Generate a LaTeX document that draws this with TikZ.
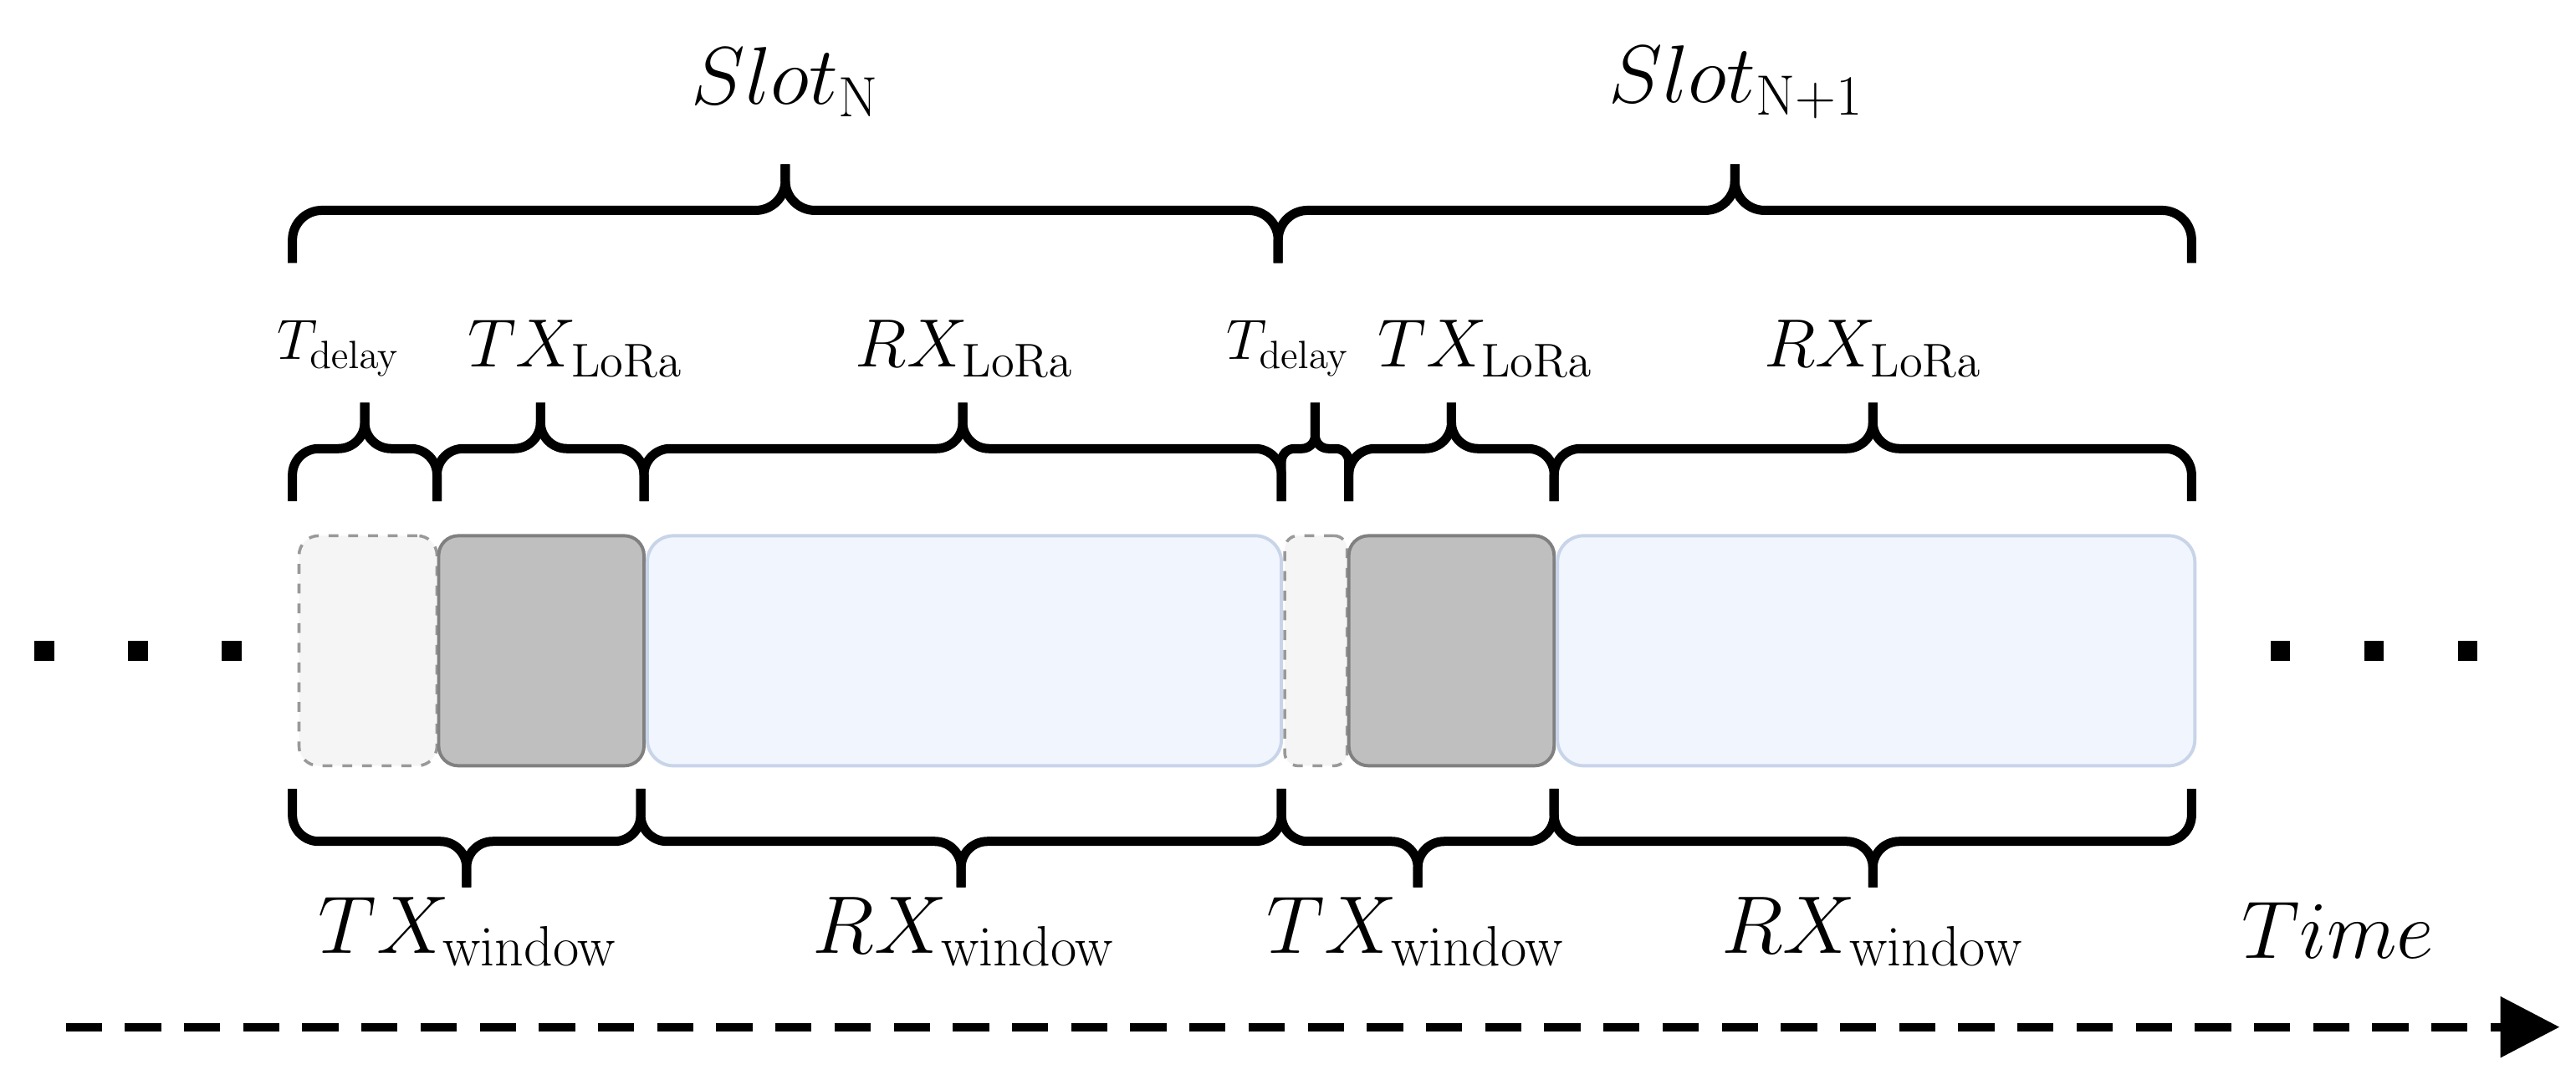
\documentclass[tikz,border=0pt]{standalone}
\usetikzlibrary{arrows.meta}
\definecolor{rxfill}{RGB}{241,245,253}
\definecolor{rxline}{RGB}{200,212,232}
\definecolor{txfill}{RGB}{191,191,191}
\definecolor{txline}{RGB}{128,128,128}
\definecolor{dlfill}{RGB}{245,245,245}
\newcommand{\mybrc}[6]{%
  \coordinate (m) at ({(#1+#2)/2},#4);
  \draw[brl,rounded corners=#6] (#1,#3) -- (#1,#4) -- (m) -- ({(#1+#2)/2},#5);
  \draw[brl,rounded corners=#6] (#2,#3) -- (#2,#4) -- (m) -- ({(#1+#2)/2},#5);}
\begin{document}
\begin{tikzpicture}[x=0.5pt,y=-0.5pt,
  brl/.style={line width=2.8pt,line cap=butt,line join=round},
  dly/.style={draw=txline!80,dashed,line width=0.9pt,fill=dlfill,rounded corners=6pt},
  tx/.style={draw=txline,line width=1pt,fill=txfill,rounded corners=6pt},
  rx/.style={draw=rxline,line width=1pt,fill=rxfill,rounded corners=8pt},
  dot/.style={fill=black,minimum size=6pt,inner sep=0pt,draw=none},
  small/.style={font=\fontsize{17}{19}\selectfont},
  mid/.style={font=\fontsize{20}{22}\selectfont},
  bot/.style={font=\fontsize{24}{27}\selectfont},
  big/.style={font=\fontsize{27}{30}\selectfont}]
\useasboundingbox (0,0) rectangle (1568,654);
% dots
\foreach \i/\x in {1/27,2/84,3/141,4/1388,5/1445,6/1502}
  \node[dot] (d\i) at (\x,396) {};
% boxes
\node[dly,minimum width=42pt,minimum height=70pt] (del1) at (224,396) {};
\node[tx,minimum width=62.5pt,minimum height=70pt] (tx1) at (329.5,396) {};
\node[rx,minimum width=193pt,minimum height=70pt] (rx1) at (587,396) {};
\node[dly,minimum width=19pt,minimum height=70pt,rounded corners=4pt] (del2) at (801,396) {};
\node[tx,minimum width=62.5pt,minimum height=70pt] (tx2) at (883.5,396) {};
\node[rx,minimum width=194pt,minimum height=70pt] (rx2) at (1142,396) {};
% top braces
\mybrc{178}{266}{305}{273}{245}{8pt}
\mybrc{266}{392}{305}{273}{245}{8pt}
\mybrc{392}{780}{305}{273}{245}{8pt}
\mybrc{780}{821}{305}{273}{245}{4pt}
\mybrc{821}{946}{305}{273}{245}{8pt}
\mybrc{946}{1334}{305}{273}{245}{8pt}
\node[small] (l1) at (206,212) {$T_{\mathrm{delay}}$};
\node[mid] (l2) at (350,212) {$TX_{\mathrm{LoRa}}$};
\node[mid] (l3) at (587,212) {$RX_{\mathrm{LoRa}}$};
\node[small] (l4) at (784,212) {$T_{\mathrm{delay}}$};
\node[mid] (l5) at (904,212) {$TX_{\mathrm{LoRa}}$};
\node[mid] (l6) at (1140,212) {$RX_{\mathrm{LoRa}}$};
% slot braces
\mybrc{178}{778}{160}{128}{100}{9pt}
\mybrc{778}{1334}{160}{128}{100}{9pt}
\node[big] (s1) at (478,50) {$Slot_{\mathrm{N}}$};
\node[big] (s2) at (1057,50) {$Slot_{\mathrm{N+1}}$};
% bottom braces
\mybrc{178}{390}{480}{512}{540}{8pt}
\mybrc{390}{780}{480}{512}{540}{8pt}
\mybrc{780}{946}{480}{512}{540}{8pt}
\mybrc{946}{1334}{480}{512}{540}{8pt}
\node[bot] (w1) at (285,567) {$TX_{\mathrm{window}}$};
\node[bot] (w2) at (587,567) {$RX_{\mathrm{window}}$};
\node[bot] (w3) at (862,567) {$TX_{\mathrm{window}}$};
\node[bot] (w4) at (1140,567) {$RX_{\mathrm{window}}$};
\node[font=\fontsize{25}{28}\selectfont] (time) at (1423,566) {$Time$};
% time axis
\coordinate (ax0) at (40,625); \coordinate (ax1) at (1558,625);
\draw[line width=2.6pt,dash pattern=on 11pt off 7pt,-{Triangle[length=18pt,width=18pt]}] (ax0) -- (ax1);
\end{tikzpicture}
\end{document}
